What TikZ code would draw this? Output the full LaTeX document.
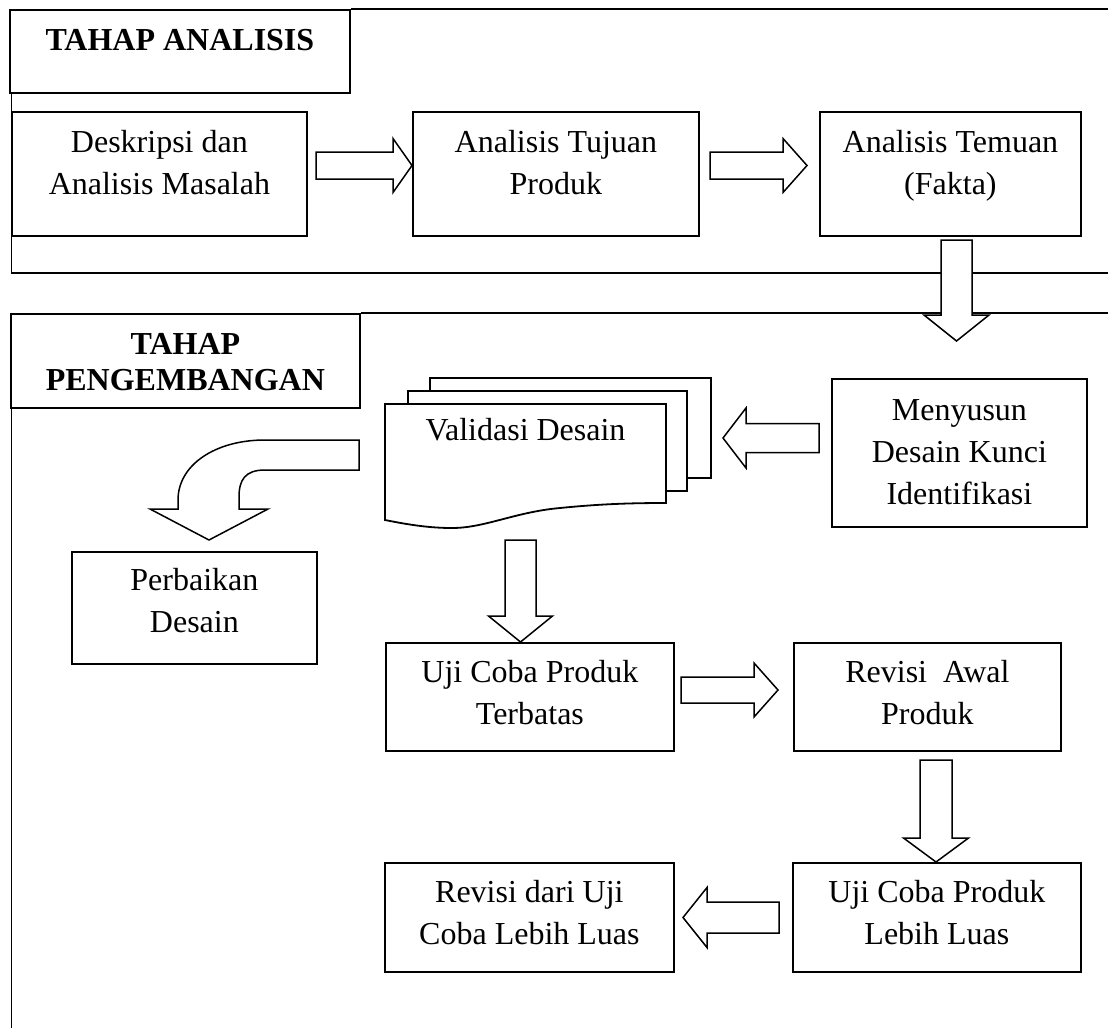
\documentclass[tikz,border=0pt]{standalone}
\usepackage{fontspec}
\setmainfont{Liberation Serif}
\usetikzlibrary{calc}

\makeatletter
% Hollow block arrow from coordinate #1 (tail) to coordinate #2 (tip).
% #3 shaft half width, #4 head half width, #5 head length.
\newcommand\blockarrow[5]{%
  \pgfpointdiff{\pgfpointanchor{#1}{center}}{\pgfpointanchor{#2}{center}}%
  \edef\ba@dx{\the\pgf@x}\edef\ba@dy{\the\pgf@y}%
  \pgfmathveclen{\ba@dx}{\ba@dy}\let\ba@len\pgfmathresult
  \pgfmathatantwo{\ba@dy}{\ba@dx}\let\ba@ang\pgfmathresult
  \begin{scope}[shift={(#1)}, rotate=\ba@ang]
    \draw[blockarr] (0,-#3) -- ({\ba@len-#5},-#3) -- ({\ba@len-#5},-#4)
      -- (\ba@len,0) -- ({\ba@len-#5},#4) -- ({\ba@len-#5},#3) -- (0,#3) -- cycle;
  \end{scope}}
\makeatother

% text height is measured up from the baseline of the last line
\tikzset{
  lbl/.style={font=\fontsize{32}{42}\selectfont},
  procbox/.style={draw, line width=1.8pt, inner sep=0pt, anchor=north west,
    align=center, font=\fontsize{32}{42}\selectfont},
  titlebox/.style={procbox, font=\bfseries\fontsize{32}{36}\selectfont},
  frameline/.style={line width=1.8pt},
  blockarr/.style={draw, fill=white, line width=1.5pt, line join=miter},
  sheet/.style={draw, fill=white, line width=1.8pt},
}

\begin{document}
\begin{tikzpicture}[x=1pt, y=-1pt]
\useasboundingbox (0,0) rectangle (1108,1028);

% ---- analysis stage ----
\node[titlebox, minimum width=340, text height=40.5, text depth=42.5] (t1) at (9,9) {TAHAP ANALISIS};
\draw[frameline] (t1.north east) -- (1108,9);
\draw[frameline] (11.5,92) -- (11.5,273) -- (1108,273);

\node[procbox, minimum width=295, text height=83, text depth=41] (b1) at (11,111) {Deskripsi dan\\Analisis Masalah};
\node[procbox, minimum width=286, text height=83, text depth=41] (b2) at (412,111) {Analisis Tujuan\\Produk};
\node[procbox, minimum width=261, text height=83, text depth=41] (b3) at (819,111) {Analisis Temuan\\(Fakta)};

% ---- development stage ----
\node[titlebox, minimum width=349, text height=77, text depth=17] (t2) at (10,313) {TAHAP\\PENGEMBANGAN};
\draw[frameline] (t2.north east) -- (1108,313);
\draw[frameline] (11.5,407) -- (11.5,1028);

\node[procbox, minimum width=255, text height=126, text depth=22] (ms) at (831,378) {Menyusun\\Desain Kunci\\Identifikasi};
\node[procbox, minimum width=245, text height=81, text depth=31] (pd) at (71,551) {Perbaikan\\Desain};
\node[procbox, minimum width=288, text height=82, text depth=26] (ut) at (385,642) {Uji Coba Produk\\Terbatas};
\node[procbox, minimum width=267, text height=82, text depth=26] (ra) at (793,642) {Revisi\ \ Awal\\Produk};
\node[procbox, minimum width=288, text height=82, text depth=27] (ul) at (792,862) {Uji Coba Produk\\Lebih Luas};
\node[procbox, minimum width=289, text height=82, text depth=27] (rl) at (384,862) {Revisi dari Uji\\Coba Lebih Luas};

% stacked documents
\draw[sheet] (430,378) rectangle (711,478);
\draw[sheet] (408,391) rectangle (687,491);
\draw[sheet] (385,404) -- (666,404) -- (666,503)
  .. controls (630,503) and (600,504) .. (560,508)
  .. controls (515,512) and (485,528) .. (452,528)
  .. controls (430,528) and (410,525) .. (385,520) -- cycle;
\node[lbl, anchor=base] (vd) at (525.5,440) {Validasi Desain};

% ---- block arrows ----
\coordinate (a1s) at (316,165.5);
\coordinate (a1e) at (b2.west |- a1s);
\blockarrow{a1s}{a1e}{13.5}{27}{19}

\coordinate (a2s) at (710,165.5);
\coordinate (a2e) at (807,165.5);
\blockarrow{a2s}{a2e}{13.5}{27}{24}

\coordinate (a3s) at (956.5,240);
\coordinate (a3e) at (956.5,341);
\blockarrow{a3s}{a3e}{15.5}{32.5}{26}

\coordinate (a4s) at (819,438);
\coordinate (a4e) at (723,438);
\blockarrow{a4s}{a4e}{14.5}{30}{23}

% curved arrow towards the design revision
\draw[blockarr] (359,440) -- (265,440)
  .. controls (215,440) and (178,465) .. (178,500) -- (178,509)
  -- (150,509) -- (209,540) -- (268,509) -- (239,509) -- (239,497)
  .. controls (239,480) and (245,470) .. (265,470) -- (359,470) -- cycle;

\coordinate (a6s) at (520.5,540);
\coordinate (a6e) at (a6s |- ut.north);
\blockarrow{a6s}{a6e}{15.5}{32}{26}

\coordinate (a7s) at (681,690);
\coordinate (a7e) at (778,690);
\blockarrow{a7s}{a7e}{13}{27}{24}

\coordinate (a8s) at (936,760);
\coordinate (a8e) at (a8s |- ul.north);
\blockarrow{a8s}{a8e}{16}{32.5}{24}

\coordinate (a9s) at (779,917.5);
\coordinate (a9e) at (683,917.5);
\blockarrow{a9s}{a9e}{15.5}{30}{24}

\end{tikzpicture}
\end{document}
